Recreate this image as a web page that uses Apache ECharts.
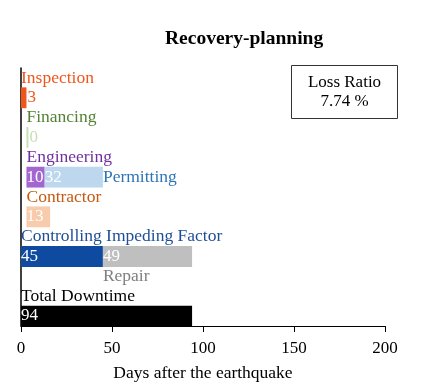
<!DOCTYPE html>
<html><head><meta charset="utf-8">
<script src="https://cdn.jsdelivr.net/npm/echarts@6/dist/echarts.min.js"></script>
<style>html,body{margin:0;padding:0;background:#fff}#c{width:423px;height:382px}</style>
</head><body><div id="c"></div>
<script>
const chartTitle = 'Recovery-planning';
const xAxisName = 'Days after the earthquake';
const tasks = ['Inspection','Financing','Engineering','Permitting','Contractor','Controlling Impeding Factor','Repair','Total Downtime'];
const starts = [0, 3, 3, 13, 3, 0, 45, 0];
const durations = [3, 0, 10, 32, 13, 45, 49, 94];
const barRows = [11, 9, 7, 7, 5, 3, 3, 0];
const nameRows = [12, 10, 8, 7, 6, 4, 2, 1];
const nameAtEnd = [false, false, false, true, false, false, false, false];
const barColors = ['#f0561c','#c5e0b4','#a366d1','#bdd7ee','#f8cbad','#0d4aa0','#bfbfbf','#000000'];
const textColors = ['#f0561c','#548235','#7030a0','#2e75b6','#c55a11','#1f4e99','#7f7f7f','#000000'];
const valueOutside = [true, true, false, false, false, false, false, false];
const xTicks = [0, 50, 100, 150, 200];
const lossRatio = 7.74;
const nRows = 13;

const rowCats = Array.from({length: nRows}, (_, i) => 'r' + i);
const FONT = '"Liberation Serif", "Times New Roman", serif';

const base = Array(nRows).fill('-');
tasks.forEach((t, i) => {
  const r = barRows[i];
  if (base[r] === '-' || starts[i] < base[r]) base[r] = starts[i];
});

const series = [{
  type: 'bar', stack: 's', data: base, barWidth: '105%',
  itemStyle: {color: 'transparent'}, silent: true
}];
tasks.forEach((t, i) => {
  const d = Array(nRows).fill('-');
  d[barRows[i]] = durations[i];
  series.push({
    type: 'bar', name: t, stack: 's', data: d, barWidth: '105%',
    barMinHeight: durations[i] === 0 ? 2 : 0,
    itemStyle: {color: barColors[i]},
    label: {
      show: true,
      position: valueOutside[i] ? 'right' : 'insideLeft',
      distance: valueOutside[i] ? 1 : 0,
      color: valueOutside[i] ? barColors[i] : '#ffffff',
      fontFamily: FONT, fontSize: 17,
      formatter: (p) => p.value
    }
  });
});
series.push({
  type: 'scatter', symbolSize: 0, z: 10,
  itemStyle: {opacity: 1},
  data: tasks.map((t, i) => ({
    value: [nameAtEnd[i] ? starts[i] + durations[i] : starts[i], nameRows[i]],
    name: t,
    label: {color: textColors[i]}
  })),
  label: {
    show: true, position: 'right', distance: 0, opacity: 1,
    fontFamily: FONT, fontSize: 17.5, formatter: (p) => p.name
  }
});

const chart = echarts.init(document.getElementById('c'), null, {renderer: 'canvas'});
chart.setOption({
  animation: false,
  backgroundColor: '#ffffff',
  title: {
    text: chartTitle, left: 160, top: 24,
    textStyle: {fontFamily: FONT, fontSize: 19.5, fontWeight: 'bold', color: '#000'}
  },
  grid: {left: 21, right: 38, top: 68, bottom: 56, containLabel: false, outerBoundsMode: 'none'},
  xAxis: {
    type: 'value', min: 0, max: 200, interval: 50,
    name: xAxisName, nameLocation: 'middle', nameGap: 38,
    nameTextStyle: {fontFamily: FONT, fontSize: 17.5, color: '#000'},
    axisLine: {show: true, lineStyle: {color: '#000', width: 1}},
    axisTick: {show: true, inside: false, length: 6, lineStyle: {color: '#000'}},
    axisLabel: {fontFamily: FONT, fontSize: 17, color: '#000', margin: 14,
      formatter: (v) => xTicks.includes(v) ? String(v) : ''},
    splitLine: {show: false}
  },
  yAxis: {
    type: 'category', data: rowCats,
    axisLine: {show: true, lineStyle: {color: '#000', width: 1.5}},
    axisTick: {show: false}, axisLabel: {show: false}, splitLine: {show: false}
  },
  graphic: [{
    type: 'group', left: 291, top: 65,
    children: [
      {type: 'rect', shape: {x: 0, y: 0, width: 106, height: 53},
        style: {fill: '#fff', stroke: '#333', lineWidth: 1}},
      {type: 'text', x: 53, y: 27,
        style: {text: 'Loss Ratio\n' + lossRatio.toFixed(2) + ' %', align: 'center', verticalAlign: 'middle',
          font: '17px ' + FONT, lineHeight: 19, fill: '#000'}}
    ]
  }],
  series: series
});
</script></body></html>
